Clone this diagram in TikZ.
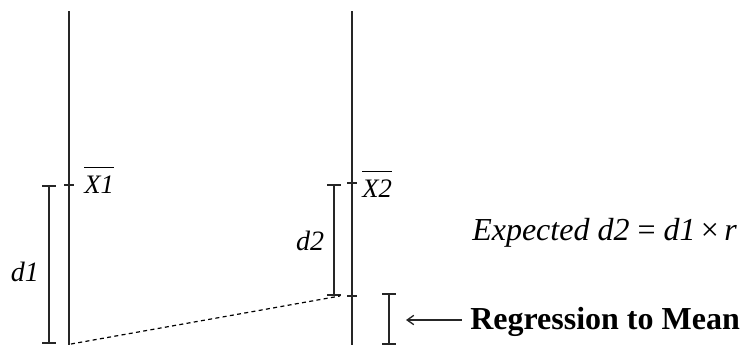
\documentclass[tikz,border=0pt]{standalone}
\usepackage{fontspec}
\setmainfont{Liberation Serif}
\usetikzlibrary{arrows.meta,positioning,calc}

\begin{document}
\begin{tikzpicture}[
    x=0.75pt, y=-0.75pt,
    axis/.style={line width=1.3pt, color=black!85},
    tick/.style={line width=1.1pt, color=black!85},
    span/.style={{Bar[width=10pt]}-{Bar[width=10pt]}, line width=1.2pt, color=black!85},
    lab/.style={font=\fontsize{21}{24}\selectfont\itshape, inner sep=0pt, anchor=base},
    mean/.style={font=\fontsize{20}{22}\selectfont, inner sep=0pt, anchor=base west},
    arr/.style={{Straight Barb[length=5pt,width=7pt]}-, line width=1pt, color=black!85}
]
\useasboundingbox (0,0) rectangle (751,350);

% Score lines
\coordinate (top1) at (69,11);
\coordinate (bot1) at (69,345);
\coordinate (top2) at (352,11);
\coordinate (bot2) at (352,345);
\draw[axis] (top1) -- (bot1);
\draw[axis] (top2) -- (bot2);

% Means
\coordinate (m1) at (69,185);
\coordinate (m2) at (352,183);
\coordinate (p2) at (352,296);
\draw[tick] ($(m1)+(-5,0)$) -- ($(m1)+(5,0)$);
\draw[tick] ($(m2)+(-5,0)$) -- ($(m2)+(5,0)$);
\draw[tick] ($(p2)+(-5,0)$) -- ($(p2)+(5,0)$);
\node[mean] (x1) at (84,193) {$\overline{\rule{0pt}{0.9em}\mbox{\itshape X1}}$};
\node[mean] (x2) at (362,197) {$\overline{\rule{0pt}{0.9em}\mbox{\itshape X2}}$};

% Distances
\coordinate (d1top) at (49,185);
\coordinate (d1bot) at (49,344);
\coordinate (d2top) at (334,184);
\coordinate (d2bot) at (334,296);
\draw[span] (d1top) -- (d1bot);
\draw[span] (d2top) -- (d2bot);
\node[lab] (d1) at (25,281) {d1};
\node[lab] (d2) at (310,250) {d2};

% Prediction
\coordinate (s1) at (71,344);
\coordinate (s2) at (340,296);
\draw[line width=0.9pt, dash pattern=on 3pt off 2.5pt] (s1) -- (s2);

% Regression
\coordinate (rtop) at (389,293);
\coordinate (rbot) at (389,345);
\draw[span] (rtop) -- (rbot);
\node[font=\fontsize{24}{27}\selectfont\bfseries, inner sep=0pt, anchor=base west] (reg) at (470,329) {Regression to Mean};
\coordinate (rtip) at (406,320);
\coordinate (rtail) at (462,320);
\draw[arr] (rtip) -- (rtail);

% Formula
\node[font=\fontsize{24}{27}\selectfont, inner sep=0pt, anchor=base west] (eq) at (472,240) {\itshape Expected d2 {\upshape =} d1{\upshape\,×\,}r};
\end{tikzpicture}
\end{document}
